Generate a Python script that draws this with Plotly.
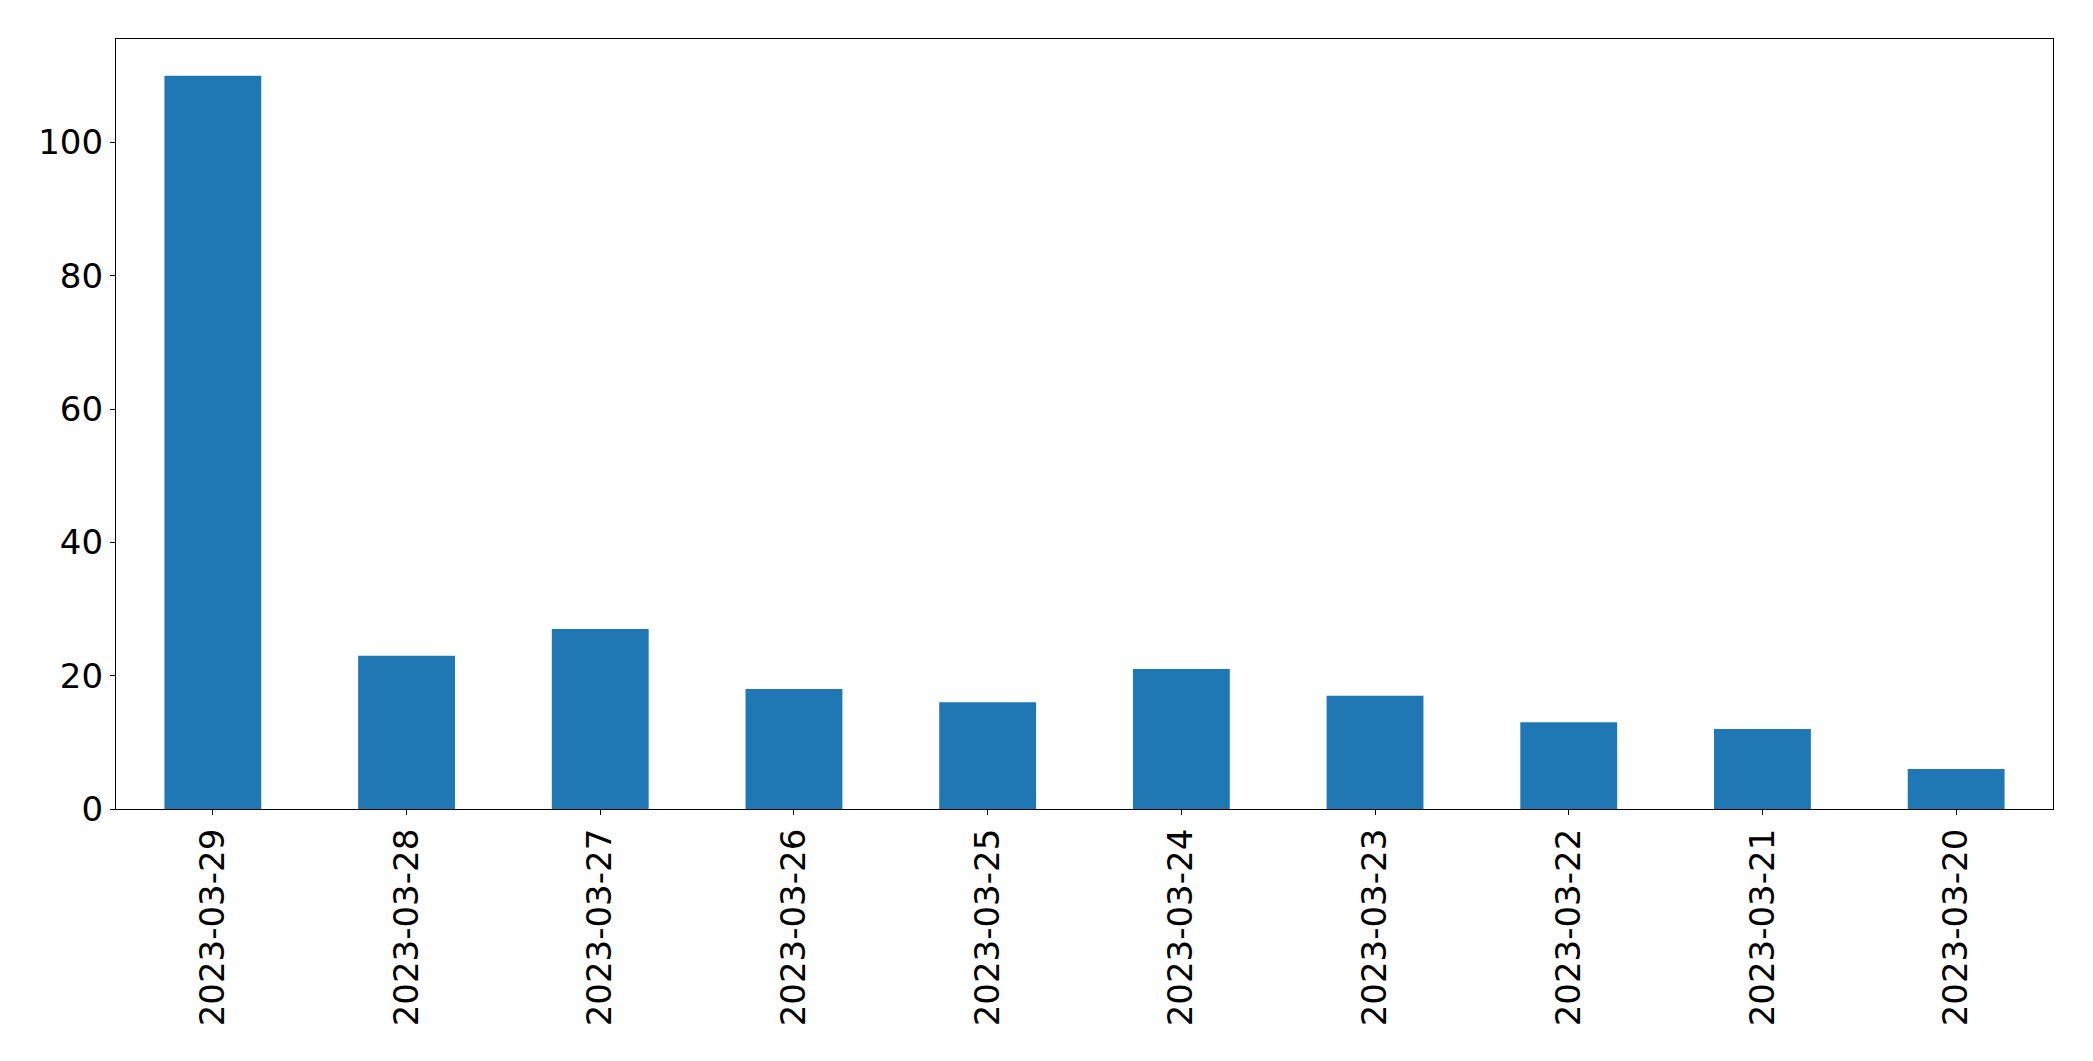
import plotly.graph_objects as go

dates = [
    "2023-03-29", "2023-03-28", "2023-03-27", "2023-03-26", "2023-03-25",
    "2023-03-24", "2023-03-23", "2023-03-22", "2023-03-21", "2023-03-20",
]
counts = [110, 23, 27, 18, 16, 21, 17, 13, 12, 6]
y_ticks = [0, 20, 40, 60, 80, 100]

BAR_COLOR = "#1f77b4"
FONT_FAMILY = "DejaVu Sans, sans-serif"

fig = go.Figure(go.Bar(
    x=dates,
    y=counts,
    width=0.5,
    marker_color=BAR_COLOR,
    marker_line_width=0,
))

axis_common = dict(
    showline=True, linecolor="black", linewidth=1.3, mirror=True,
    ticks="outside", ticklen=5, tickwidth=1.3, tickcolor="black",
    showgrid=False, zeroline=False,
    tickfont=dict(size=34, color="black", family=FONT_FAMILY),
)

# page body has an 8px margin, so the figure is shifted by that
fig.update_layout(
    width=2077, height=1045,
    margin=dict(l=108, r=32, t=31, b=244),
    paper_bgcolor="white",
    plot_bgcolor="white",
    showlegend=False,
    xaxis=dict(
        type="category",
        range=[-0.5, len(dates) - 0.5],
        tickangle=-90,
        ticklabelstandoff=0,
        **axis_common,
    ),
    yaxis=dict(
        range=[0, 115.5],
        tickvals=y_ticks,
        ticklabelstandoff=0,
        **axis_common,
    ),
)

fig.write_html("out.html")
